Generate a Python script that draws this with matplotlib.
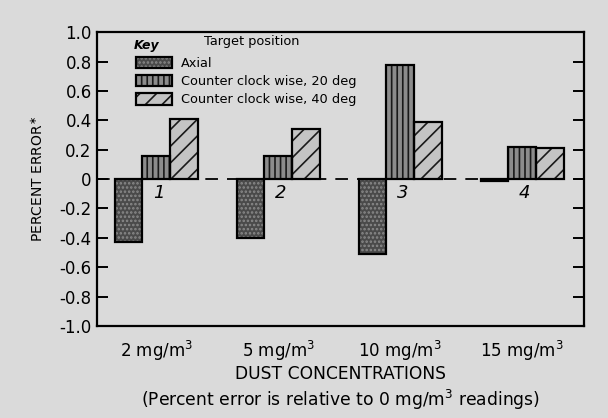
import matplotlib
matplotlib.use("Agg")
import matplotlib.pyplot as plt
from matplotlib.patches import Patch
import numpy as np

categories = ["2 mg/m$^3$", "5 mg/m$^3$", "10 mg/m$^3$", "15 mg/m$^3$"]
group_nums = ["1", "2", "3", "4"]
axial = [-0.43, -0.40, -0.51, -0.015]
ccw20 = [0.16, 0.16, 0.78, 0.22]
ccw40 = [0.41, 0.34, 0.39, 0.21]
yticks = [1.0, 0.8, 0.6, 0.4, 0.2, 0.0, -0.2, -0.4, -0.6, -0.8, -1.0]
ytick_labels = ["1.0", "0.8", "0.6", "0.4", "0.2", "0", "-0.2", "-0.4", "-0.6", "-0.8", "-1.0"]

bg = "#dadada"
plt.rcParams["hatch.linewidth"] = 1.2

fig = plt.figure(figsize=(6.08, 4.18), dpi=100, facecolor=bg)
ax = fig.add_axes([0.160, 0.220, 0.801, 0.703], facecolor=bg)

x = np.arange(len(categories))
w = 0.227

styles = {
    "axial": dict(face="#4a4a4a", hatch="....", hcol="#8a8a8a"),
    "ccw20": dict(face="#8c8c8c", hatch="|||", hcol="#1a1a1a"),
    "ccw40": dict(face="#c4c4c4", hatch="//", hcol="#1a1a1a"),
}

def draw(xpos, vals, st):
    ax.bar(xpos, vals, w, color=st["face"], hatch=st["hatch"],
           edgecolor=st["hcol"], linewidth=0, zorder=2)
    ax.bar(xpos, vals, w, color="none", edgecolor="black", linewidth=1.6, zorder=3)

draw(x - w, axial, styles["axial"])
draw(x, ccw20, styles["ccw20"])
draw(x + w, ccw40, styles["ccw40"])

ax.axhline(0, color="black", linewidth=1.3, linestyle=(0, (7, 5)), zorder=1)

for xi, n in zip(x, group_nums):
    ax.text(xi + 0.02, -0.095, n, fontsize=13, style="italic", ha="center",
            va="center", zorder=4)

ax.set_xlim(-0.484, len(categories) - 1 + 0.508)
ax.set_ylim(-1.0, 1.0)
ax.set_yticks(yticks)
ax.set_yticklabels(ytick_labels, fontsize=12)
ax.tick_params(axis="y", direction="in", length=8, width=1.4,
               right=True, left=True, pad=4)
ax.set_xticks(x)
ax.set_xticklabels(categories, fontsize=12)
ax.tick_params(axis="x", length=0, pad=9)
for s in ax.spines.values():
    s.set_linewidth(1.6)

ax.set_xlabel("DUST CONCENTRATIONS\n(Percent error is relative to 0 mg/m$^3$ readings)",
              fontsize=12.3, labelpad=2, linespacing=1.25)
ax.set_ylabel("PERCENT ERROR$^{\\ast}$", fontsize=10, labelpad=10)

handles = []
for key in ["axial", "ccw20", "ccw40"]:
    st = styles[key]
    p1 = Patch(facecolor=st["face"], hatch=st["hatch"], edgecolor=st["hcol"], linewidth=0)
    p2 = Patch(facecolor="none", edgecolor="black", linewidth=1.6)
    handles.append((p1, p2))
labels = ["Axial", "Counter clock wise, 20 deg", "Counter clock wise, 40 deg"]
ax.legend(handles, labels, loc="upper left", bbox_to_anchor=(0.055, 0.955),
          frameon=False, fontsize=9.3, handlelength=2.8, handleheight=0.95,
          labelspacing=0.4, handletextpad=0.7)
ax.text(0.075, 0.955, "Key", transform=ax.transAxes, fontsize=9,
        style="italic", fontweight="bold", va="center")
ax.text(0.22, 0.97, "Target position", transform=ax.transAxes, fontsize=9.3,
        va="center")

fig.savefig("out.png", dpi=100, facecolor=bg)
